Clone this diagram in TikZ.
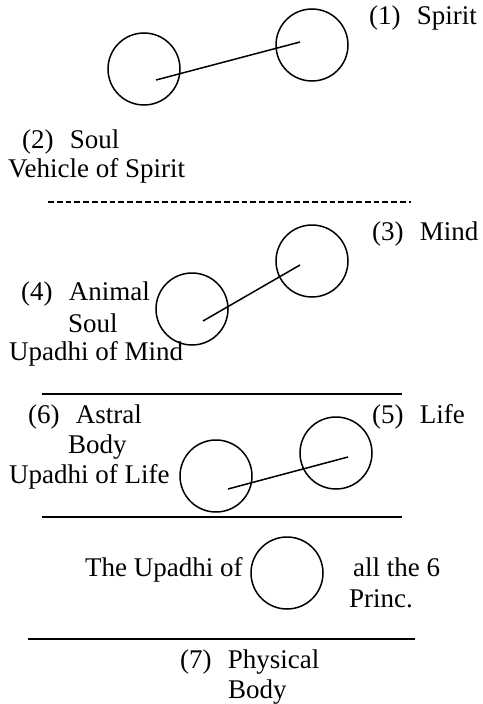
\documentclass[tikz,border=0pt]{standalone}
\usepackage{fontspec}
\setmainfont{Liberation Serif}
\usepackage{tikz}
\usetikzlibrary{positioning,calc}
\newcommand{\pnum}[1]{(#1)\hspace{0.6em}}
\tikzset{
  orb/.style={circle,draw,line width=1.5pt,minimum size=72pt,inner sep=0pt},
  lbl/.style={anchor=base west,inner sep=0pt,font=\fontsize{27}{30}\selectfont},
  link/.style={line width=1.5pt},
  rulel/.style={line width=1.2pt},
  hyph/.style={line width=2pt,dash pattern=on 5.8pt off 3pt},
}
\begin{document}
\begin{tikzpicture}[x=1pt,y=-1pt]
\useasboundingbox (0,0) rectangle (482,704);
% principles 1 and 2
\node[orb] (c1) at (312,45) {};
\node[orb] (c2) at (144,69) {};
\node[lbl] (spirit) at (369,24) {\pnum{1}Spirit};
\node[lbl] (soul) at (22,148) {\pnum{2}Soul};
\node[lbl] (vehicle) at (8,177) {Vehicle of Spirit};
\draw[link] ([shift={(12,11)}]c2.center) -- ([shift={(-12,-3)}]c1.center);
\draw[hyph] (48,202) -- (411,202);
% principles 3 and 4
\node[orb] (c3) at (312,261) {};
\node[orb] (c4) at (192,309) {};
\node[lbl] (mind) at (372,240) {\pnum{3}Mind};
\node[lbl] (animal) at (21,300) {\pnum{4}Animal};
\node[lbl] (animalb) at (68,332) {Soul};
\node[lbl] (updmind) at (9,360) {Upadhi of Mind};
\draw[link] ([shift={(11,12)}]c4.center) -- ([shift={(-12,4)}]c3.center);
\draw[rulel] (42,394) -- (402,394);
% principles 5 and 6
\node[orb] (c5) at (336,453) {};
\node[orb] (c6) at (216,476) {};
\node[lbl] (astral) at (28,423) {\pnum{6}Astral};
\node[lbl] (astralb) at (68,453) {Body};
\node[lbl] (life) at (372,423) {\pnum{5}Life};
\node[lbl] (updlife) at (9,483) {Upadhi of Life};
\draw[link] ([shift={(12,13)}]c6.center) -- ([shift={(12,4)}]c5.center);
\draw[rulel] (42,517) -- (402,517);
% principle 7
\node[orb] (c7) at (287,573) {};
\node[lbl] (updall) at (85,576) {The Upadhi of};
\node[lbl] (allsix) at (353,576) {all the 6};
\node[lbl] (princ) at (349,607) {Princ.};
\draw[rulel] (28,639) -- (415,639);
\node[lbl] (phys) at (180,668) {\pnum{7}Physical};
\node[lbl] (physb) at (228,698) {Body};
\end{tikzpicture}
\end{document}
